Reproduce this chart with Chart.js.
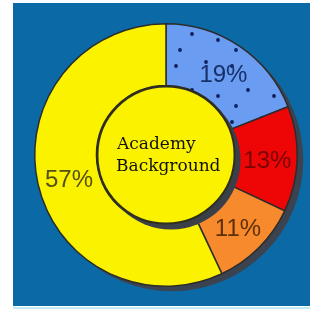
<!DOCTYPE html>
<html>
<head>
<meta charset="utf-8">
<script src="https://cdn.jsdelivr.net/npm/chart.js@4"></script>
<style>
    html, body { margin: 0; padding: 0; background: #ffffff; }
    canvas { display: block; }
</style>
</head>
<body>
<canvas id="academyChart" width="310" height="311"></canvas>
<script>
// Chart data
const categories = ['Segment 1', 'Segment 2', 'Segment 3', 'Segment 4'];
const shares = [19, 13, 11, 57];
const labelColors = ['#17306a', '#780404', '#5e300a', '#545012'];
const centerLines = ['Academy', 'Background'];

// Dotted fill for the blue slice
function makeDots() {
    const c = document.createElement('canvas');
    c.width = 56;
    c.height = 56;
    const g = c.getContext('2d');
    g.fillStyle = '#6a9cf2';
    g.fillRect(0, 0, 56, 56);
    g.fillStyle = '#0d1d5c';
    [[8, 10], [38, 6], [24, 34], [50, 40], [12, 50]].forEach(p => {
        g.beginPath();
        g.arc(p[0], p[1], 1.9, 0, Math.PI * 2);
        g.fill();
    });
    return g.createPattern(c, 'repeat');
}

// Blue background, shadows, centre disc and slice labels
const decorations = {
    id: 'decorations',
    beforeDraw(chart) {
        const ctx = chart.ctx;
        ctx.save();
        ctx.fillStyle = '#ffffff';
        ctx.fillRect(0, 0, chart.width, chart.height);
        ctx.fillStyle = '#0b6aa6';
        ctx.fillRect(13, 3, 297, 303);
        ctx.fillStyle = '#c4ecf8';
        ctx.fillRect(13, 307, 297, 2);
        ctx.restore();
    },
    beforeDatasetsDraw(chart) {
        const arc = chart.getDatasetMeta(0).data[0];
        const ctx = chart.ctx;
        ctx.save();
        ctx.fillStyle = '#3b4350';
        ctx.beginPath();
        ctx.arc(arc.x + 6, arc.y + 5, arc.outerRadius, 0, Math.PI * 2);
        ctx.fill();
        ctx.restore();
    },
    afterDatasetsDraw(chart) {
        const meta = chart.getDatasetMeta(0);
        const arc = meta.data[0];
        const ctx = chart.ctx;
        ctx.save();
        // raised centre disc
        ctx.fillStyle = '#3b4048';
        ctx.beginPath();
        ctx.arc(arc.x + 5, arc.y + 5, arc.innerRadius, 0, Math.PI * 2);
        ctx.fill();
        ctx.fillStyle = '#fbf200';
        ctx.strokeStyle = '#2e2e1e';
        ctx.lineWidth = 2;
        ctx.beginPath();
        ctx.arc(arc.x, arc.y, arc.innerRadius - 1, 0, Math.PI * 2);
        ctx.fill();
        ctx.stroke();

        ctx.fillStyle = '#111111';
        ctx.font = '17px "DejaVu Serif"';
        ctx.textAlign = 'left';
        ctx.textBaseline = 'alphabetic';
        ctx.fillText(centerLines[0], arc.x - 49, arc.y - 6);
        ctx.fillText(centerLines[1], arc.x - 50, arc.y + 16);

        // percentage labels
        ctx.font = '24px "Liberation Sans"';
        ctx.textAlign = 'center';
        ctx.textBaseline = 'middle';
        meta.data.forEach((el, i) => {
            const pos = el.tooltipPosition();
            ctx.fillStyle = labelColors[i];
            ctx.fillText(shares[i] + '%', pos.x + 1, pos.y + 3);
        });
        ctx.restore();
    }
};

function createChart() {
    const ctx = document.getElementById('academyChart').getContext('2d');
    new Chart(ctx, {
        type: 'doughnut',
        data: {
            labels: categories,
            datasets: [{
                data: shares,
                backgroundColor: [makeDots(), '#ee0606', '#f68a2c', '#fbf200'],
                borderColor: '#2c2c2c',
                borderWidth: 1.5
            }]
        },
        options: {
            responsive: false,
            animation: false,
            devicePixelRatio: 1,
            cutout: '53%',
            layout: {
                padding: { left: 34, right: 12, top: 23, bottom: 24 }
            },
            plugins: {
                legend: { display: false },
                tooltip: { enabled: false }
            }
        },
        plugins: [decorations]
    });
}

document.addEventListener('DOMContentLoaded', () => {
    createChart();
});
</script>
</body>
</html>
